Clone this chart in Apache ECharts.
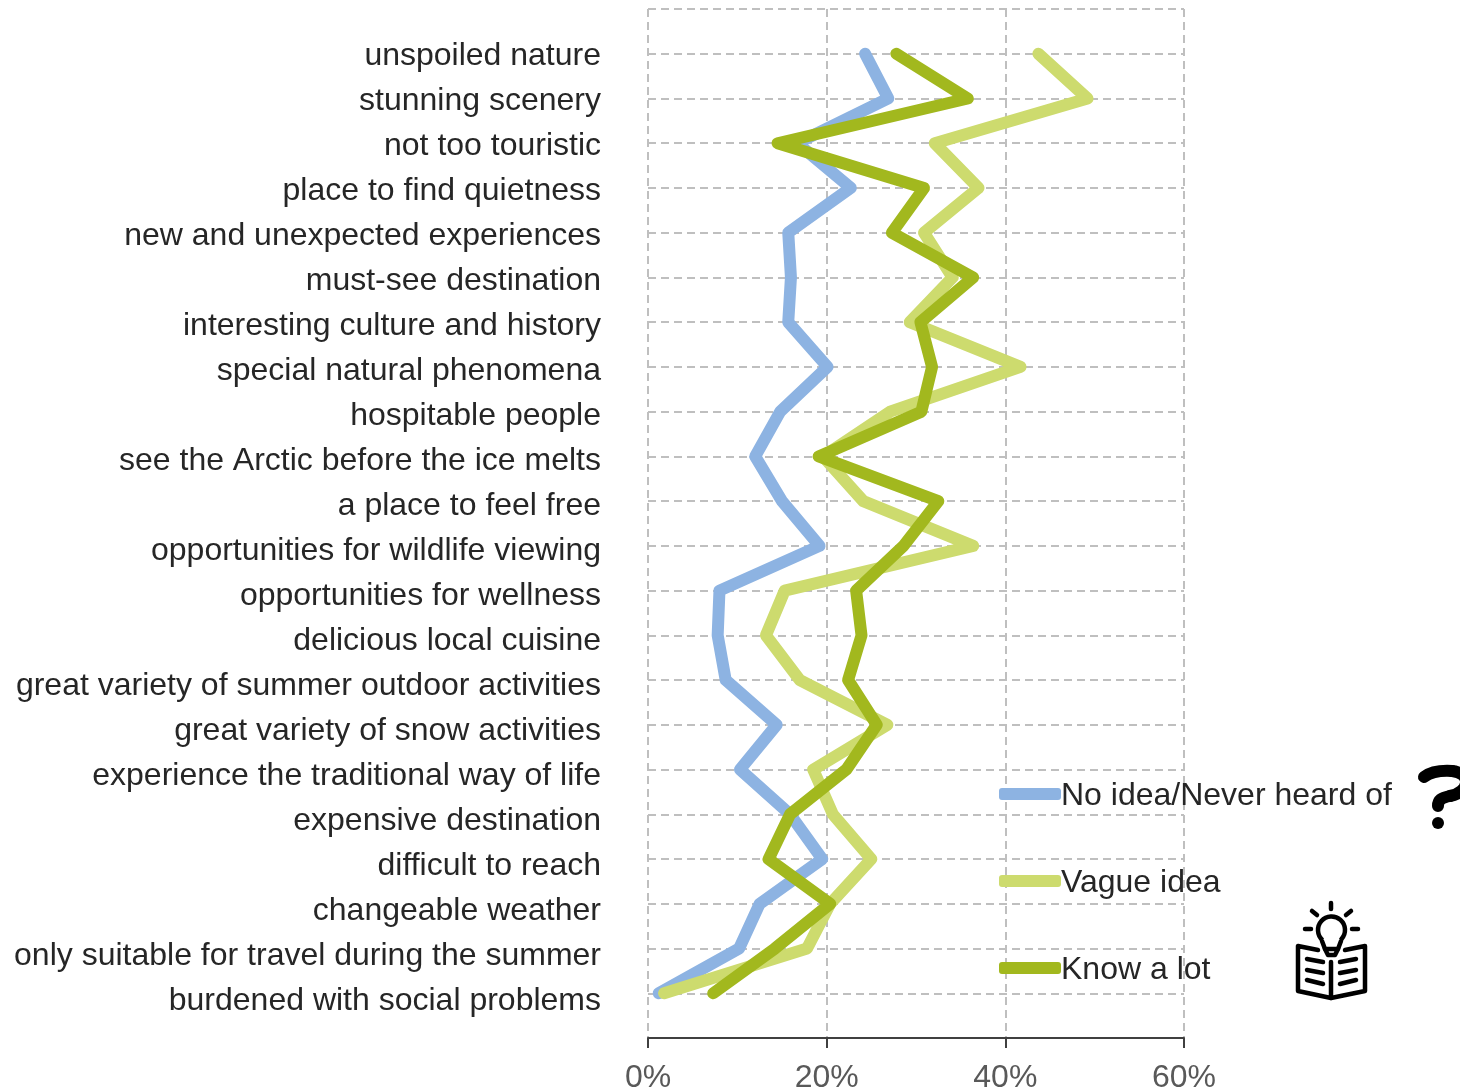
<!DOCTYPE html>
<html>
<head>
<meta charset="utf-8">
<title>Chart</title>
<script src="https://cdn.jsdelivr.net/npm/echarts@6/dist/echarts.min.js"></script>
<style>
  html, body { margin: 0; padding: 0; background: #fff; }
  #main { width: 1460px; height: 1089px; }
</style>
</head>
<body>
<div id="main"></div>
<script>
// first and last entry are blank so the lines sit one row away from the frame
const categories = ['', 'unspoiled nature', 'stunning scenery', 'not too touristic', 'place to find quietness',
  'new and unexpected experiences', 'must-see destination', 'interesting culture and history',
  'special natural phenomena', 'hospitable people', 'see the Arctic before the ice melts',
  'a place to feel free', 'opportunities for wildlife viewing', 'opportunities for wellness',
  'delicious local cuisine', 'great variety of summer outdoor activities', 'great variety of snow activities',
  'experience the traditional way of life', 'expensive destination', 'difficult to reach',
  'changeable weather', 'only suitable for travel during the summer', 'burdened with social problems', ''];

const noIdea = [24.3, 26.9, 16.7, 22.7, 15.7, 16.0, 15.7, 20.1, 14.8, 12.0, 15.0, 19.2,
  8.0, 7.8, 8.7, 14.4, 10.3, 15.9, 19.5, 12.5, 10.2, 1.2];
const vagueIdea = [43.7, 49.2, 32.1, 37.0, 30.9, 34.1, 29.3, 41.7, 27.1, 19.6, 24.1, 36.4,
  15.3, 13.2, 17.0, 26.8, 18.5, 20.7, 25.0, 20.4, 17.8, 1.8];
const knowLot = [27.8, 35.8, 14.5, 30.9, 27.3, 36.4, 30.5, 31.8, 30.6, 19.1, 32.5, 28.6,
  23.3, 23.9, 22.4, 25.6, 22.2, 15.9, 13.5, 20.4, 14.2, 7.3];

const xTicks = { min: 0, max: 60, interval: 20 };
const font = '"Liberation Sans", Arial, sans-serif';

const chart = echarts.init(document.getElementById('main'));

function makeSeries(name, values, color) {
  return {
    name: name,
    type: 'line',
    symbol: 'none',
    data: values.map((v, i) => [v, i + 1]),
    lineStyle: { color: color, width: 12, cap: 'round', join: 'round' },
    itemStyle: { color: color }
  };
}

// small icons next to the legend
function stroke(points) {
  return {
    type: 'polyline',
    shape: { points: points },
    style: { stroke: '#000', fill: null, lineWidth: 4.5, lineCap: 'round', lineJoin: 'round' }
  };
}

function curve(x1, y1, cpx1, cpy1, cpx2, cpy2, x2, y2) {
  return {
    type: 'bezierCurve',
    shape: { x1: x1, y1: y1, cpx1: cpx1, cpy1: cpy1, cpx2: cpx2, cpy2: cpy2, x2: x2, y2: y2 },
    style: { stroke: '#000', fill: null, lineWidth: 12, lineCap: 'round' }
  };
}

const option = {
  animation: false,
  grid: [
    { left: 648, right: 276, top: 9, height: 1029, outerBoundsMode: 'none' },
    // labels only: their rows are a touch wider than the gridlines
    { left: 648, right: 276, top: 10.7, height: 1035.7, outerBoundsMode: 'none' }
  ],
  xAxis: [
    {
      type: 'value',
      min: xTicks.min,
      max: xTicks.max,
      interval: xTicks.interval,
      axisLine: { show: true, lineStyle: { color: '#404040', width: 2 } },
      axisTick: { show: true, length: 10, lineStyle: { color: '#404040', width: 2 } },
      axisLabel: { formatter: '{value}%', fontFamily: font, fontSize: 32, color: '#595959', margin: 24 },
      splitLine: { show: true, lineStyle: { color: '#BFBFBF', width: 2, type: [8, 5] } }
    },
    { type: 'value', gridIndex: 1, min: xTicks.min, max: xTicks.max, show: false }
  ],
  yAxis: [
    {
      type: 'category',
      inverse: true,
      boundaryGap: false,
      data: categories,
      axisLine: { show: false },
      axisTick: { show: false },
      axisLabel: { show: false },
      splitLine: { show: true, interval: 0, lineStyle: { color: '#BFBFBF', width: 2, type: [8, 5] } }
    },
    {
      type: 'category',
      gridIndex: 1,
      inverse: true,
      boundaryGap: false,
      data: categories,
      axisLine: { show: false },
      axisTick: { show: false },
      splitLine: { show: false },
      axisLabel: { interval: 0, fontFamily: font, fontSize: 32, color: '#262626', margin: 47 }
    }
  ],
  legend: {
    orient: 'vertical',
    left: 999,
    top: 780,
    padding: 0,
    icon: 'roundRect',
    itemWidth: 62,
    itemHeight: 12,
    itemGap: 55,
    formatter: '{t|{name}}',
    textStyle: {
      padding: [0, 0, 0, -5],
      rich: { t: { fontFamily: font, fontSize: 32, color: '#262626', padding: [4, 0, 0, 0] } }
    },
    data: ['No idea/Never heard of', 'Vague idea', 'Know a lot']
  },
  series: [
    makeSeries('No idea/Never heard of', noIdea, '#8DB3E2'),
    makeSeries('Vague idea', vagueIdea, '#CDDB6E'),
    makeSeries('Know a lot', knowLot, '#A2B81E')
  ],
  graphic: [
    {
      type: 'group',
      children: [
        curve(1424, 777, 1432, 771, 1444, 770.5, 1452, 771),
        curve(1452, 771, 1472, 773, 1470, 792, 1450, 796),
        curve(1450, 796, 1441, 798, 1438, 800, 1438, 806),
        { type: 'circle', shape: { cx: 1438, cy: 823, r: 6 }, style: { fill: '#000' } }
      ]
    },
    {
      type: 'group',
      children: [
        stroke([[1331, 903], [1331, 909]]),
        stroke([[1312, 911], [1317, 915]]),
        stroke([[1351, 911], [1346, 915]]),
        stroke([[1305, 929], [1311, 929]]),
        stroke([[1352, 929], [1358, 929]]),
        {
          type: 'arc',
          shape: { cx: 1331.5, cy: 930, r: 13.5, startAngle: 2.3, endAngle: 0.84 },
          style: { stroke: '#000', fill: null, lineWidth: 4.5 }
        },
        stroke([[1322, 941], [1325, 949], [1338, 949], [1341, 941]]),
        stroke([[1325, 949], [1328, 955], [1335, 955], [1338, 949]]),
        stroke([[1318, 950], [1298, 946], [1298, 991], [1331, 998], [1365, 991], [1365, 946], [1345, 950]]),
        stroke([[1331, 962], [1331, 998]]),
        stroke([[1307, 959], [1323, 962]]),
        stroke([[1307, 970], [1323, 973]]),
        stroke([[1307, 980], [1323, 984]]),
        stroke([[1340, 962], [1356, 959]]),
        stroke([[1340, 973], [1356, 970]]),
        stroke([[1340, 984], [1356, 980]])
      ]
    }
  ]
};

chart.setOption(option);
</script>
</body>
</html>
